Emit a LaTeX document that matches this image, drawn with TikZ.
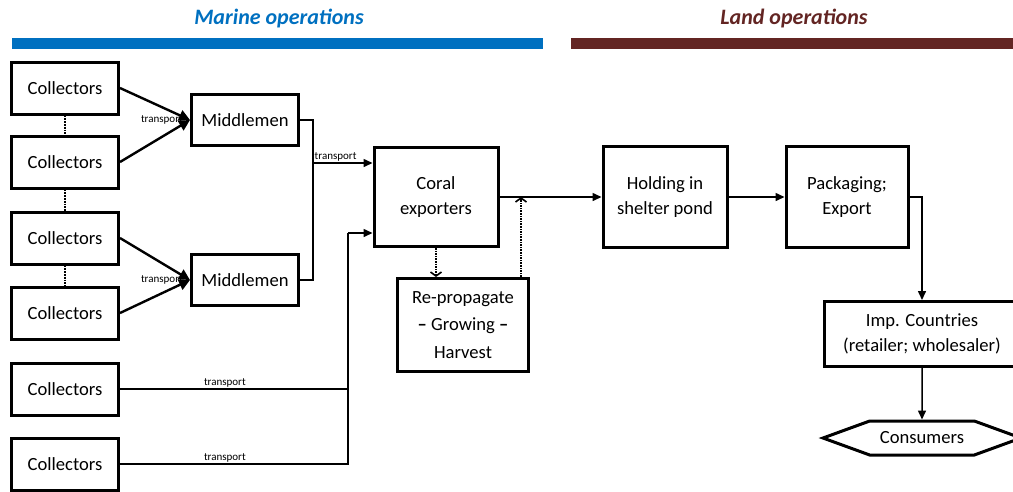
\documentclass[tikz,border=0pt]{standalone}
\usepackage{fontspec}
\setmainfont{Carlito}
\usepackage{tikz}
\usetikzlibrary{arrows.meta,positioning,shapes.symbols,calc}
\definecolor{seablue}{RGB}{0,112,192}
\definecolor{landbrown}{RGB}{99,37,35}
\tikzset{
    line/.style     = {-{Triangle[length=9pt,width=8pt]}, line width=1.5pt},
    plain/.style    = {line width=1.5pt},
    fatline/.style  = {-{Triangle[length=11pt,width=11pt]}, line width=2.4pt},
    dotline/.style  = {-{Straight Barb[length=4pt,width=11pt]}, line width=1.6pt, densely dotted},
    block/.style    = {draw, line width=3pt, minimum width=107pt, minimum height=52pt,
            align=center, inner sep=2pt, font=\fontsize{18.6}{24.5}\selectfont},
    tiny/.style     = {font=\fontsize{11}{12}\selectfont, inner sep=1pt},
    heading/.style  = {font=\fontsize{22}{24}\selectfont\bfseries\itshape},
    hexa/.style     = {draw, line width=3pt, signal, signal to=west and east,
            signal pointer angle=40, minimum width=198pt, minimum height=34pt,
            inner sep=2pt, font=\fontsize{18.6}{24}\selectfont},
}
\begin{document}
\begin{tikzpicture}[x=1pt,y=-1pt]
    \useasboundingbox (0,0) rectangle (1013,491);
    % Headings
    \node[heading, text=seablue] (marine) at (279,19) {Marine operations};
    \node[heading, text=landbrown] (land) at (794,19) {Land operations};
    \fill[seablue] (12,38) rectangle (543,49);
    \fill[landbrown] (571,38) rectangle (1013,49);

    % Collectors
    \node[block] (col1) at (65,88) {Collectors};
    \node[block] (col2) at (65,162) {Collectors};
    \node[block] (col3) at (65,238) {Collectors};
    \node[block] (col4) at (65,313) {Collectors};
    \node[block] (col5) at (65,389) {Collectors};
    \node[block] (col6) at (65,464) {Collectors};
    \draw[densely dotted, line width=1.8pt] (col1) -- (col2);
    \draw[densely dotted, line width=1.8pt] (col2) -- (col3);
    \draw[densely dotted, line width=1.8pt] (col3) -- (col4);

    % Middlemen
    \node[block, minimum height=51pt] (mid1) at (245,120) {Middlemen};
    \node[block, minimum height=51pt] (mid2) at (245,280) {Middlemen};
    \node[tiny, left=6pt of mid1.west] (tA) {transport};
    \node[tiny, left=6pt of mid2.west] (tB) {transport};
    \draw[fatline] (col1.east) -- (mid1.west);
    \draw[fatline] (col2.east) -- (mid1.west);
    \draw[fatline] (col3.east) -- (mid2.west);
    \draw[fatline] (col4.east) -- (mid2.west);

    % Exporters and re-propagation
    \node[block, minimum width=124pt, minimum height=99pt] (coral) at (436,197) {Coral\\exporters};
    \node[block, minimum width=131pt, minimum height=93pt] (repro) at (463,325)
        {Re-propagate\\[3pt]\textbf{–} Growing \textbf{–}\\[3pt]Harvest};
    \coordinate (inA) at ($(coral.west)+(0,-34)$);
    \coordinate (inB) at ($(coral.west)+(0,36)$);
    \coordinate (busA) at (313,163);
    \coordinate (busB) at (348,233);
    \draw[plain] (mid1.east) -| (busA);
    \draw[plain] (mid2.east) -| (busA);
    \draw[line] (busA) -- node[tiny, above, pos=0.38] {transport} (inA);
    \draw[plain] (col5.east) -- node[tiny, above, pos=0.46] {transport} (col5.east -| busB) -- (busB);
    \draw[plain] (col6.east) -- node[tiny, above, pos=0.46] {transport} (col6.east -| busB) -- (busB);
    \draw[line] (busB) -- (inB);

    % Land side
    \node[block, minimum width=124pt, minimum height=101pt] (hold) at (665,197) {Holding in\\shelter pond};
    \node[block, minimum width=122pt, minimum height=101pt] (pack) at (847,197) {Packaging;\\Export};
    \node[block, minimum width=195pt, minimum height=65pt] (imp) at (922,334) {Imp. Countries\\(retailer; wholesaler)};
    \node[hexa] (cons) at (922,438) {Consumers};
    \coordinate (join) at (521,197);
    \draw[dotline] (coral.south) -- (coral.south |- repro.north);
    \draw[dotline] (repro.north -| join) -- (join);
    \draw[line] (coral.east) -- (hold.west);
    \draw[line] (hold.east) -- (pack.west);
    \draw[line] (pack.east) -| (imp.north);
    \draw[line] (imp) -- (cons);
\end{tikzpicture}
\end{document}
